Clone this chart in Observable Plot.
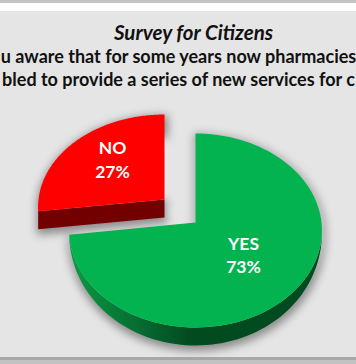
<!DOCTYPE html>
<html><head><meta charset="utf-8">
<script src="https://cdn.jsdelivr.net/npm/d3@7"></script>
<script src="https://cdn.jsdelivr.net/npm/@observablehq/plot@0.6"></script>
<style>
html,body{margin:0;padding:0;background:#fff;overflow:hidden}
svg{display:block}
</style></head><body><div id="c"></div>
<script>
const categories = ["YES","NO"];
const shares = [73,27];
const labels = ["73%","27%"];
const topColors = ["#02b350","#ff0000"];
const sideLight = "#0a9a45";
const sideDark = "#024a20";
const redSide = "#730000";
const title = "Survey for Citizens";
const subtitle = ["u aware that for some years now pharmacies","bled to provide a series of new services for c"];

// view model, in the picture's own pixel units
const W=356,H=364;
const a=126, ks=[96.3,92], p=0.0825, depth=18;
const centers=[[195,222],[164,199]];
function proj(i,u,v,dz=0){const c=centers[i],s=1/(1-p*v);return [c[0]+a*u*s, c[1]+ks[i]*v*s+dz];}
const rimDrop=v=>depth*Math.pow(Math.max(v,0),0.9);
// turn shares into arcs: clockwise from 12 o'clock
const arcs=d3.pie().sort(null).value(d=>d)(shares);
const tops=[],sides=[],shadows=[];
arcs.forEach((arc,i)=>{
  const angs=d3.range(0,121).map(j=>arc.startAngle+(arc.endAngle-arc.startAngle)*j/120);
  const pts=angs.map(t=>[Math.sin(t),-Math.cos(t)]);
  const top=[[0,0],...pts].map(([u,v])=>proj(i,u,v));
  top.forEach(([x,y])=>tops.push({x,y,i}));
  let bot;
  if(i===0){
    bot=[[0,0],...pts].map(([u,v])=>proj(i,u,v,rimDrop(v)));
    const front=pts.filter(([u,v])=>v>-0.01);
    const upper=front.map(([u,v])=>proj(i,u,v));
    const lower=front.map(([u,v])=>proj(i,u,v,rimDrop(v)));
    [...upper,...lower.reverse()].forEach(([x,y])=>sides.push({x,y,z:"g",col:"url(#wall)"}));
  } else {
    bot=[[0,0],...pts].map(([u,v])=>proj(i,u,v,depth));
    const s=pts[0];
    [proj(i,0,0),proj(i,s[0],s[1]),proj(i,s[0],s[1],depth),proj(i,0,0,depth)].forEach(([x,y])=>sides.push({x,y,z:"r1",col:redSide}));
  }
  [...top,...bot.slice().reverse()].forEach(([x,y])=>shadows.push({x:x+1,y:y+3,i}));
});
const blur=(index,scales,values,dims,ctx,next)=>{const g=next(index,scales,values,dims,ctx);g.style.filter="blur(4px)";return g;};
const defs=()=>{
  const d=d3.create("svg:defs");
  const g=d.append("linearGradient").attr("id","wall").attr("gradientUnits","userSpaceOnUse")
    .attr("x1",70).attr("x2",190).attr("y1",0).attr("y2",0);
  g.append("stop").attr("offset",0).attr("stop-color",sideLight);
  g.append("stop").attr("offset",1).attr("stop-color",sideDark);
  return d.node();
};
const sideMark=(z,fill)=>Plot.line(sides.filter(d=>d.z===z),{x:"x",y:"y",fill,stroke:"none"});
const chart=Plot.plot({
  width:W,height:H,margin:0,
  x:{domain:[0,W],range:[0,W],axis:null},
  y:{domain:[0,H],range:[0,H],axis:null},
  style:{background:"transparent",overflow:"hidden"},
  marks:[
    defs,
    Plot.rect([{x1:0,x2:W,y1:11,y2:357}],{x1:"x1",x2:"x2",y1:"y1",y2:"y2",fill:"#e5e5e5"}),
    Plot.rect([{x1:0,x2:W,y1:0,y2:3}],{x1:"x1",x2:"x2",y1:"y1",y2:"y2",fill:"#c4c4c4"}),
    Plot.rect([{x1:0,x2:W,y1:357,y2:360}],{x1:"x1",x2:"x2",y1:"y1",y2:"y2",fill:"#a8a8a8"}),
    Plot.rect([{x1:0,x2:W,y1:360,y2:364}],{x1:"x1",x2:"x2",y1:"y1",y2:"y2",fill:"#c2c2c2"}),
    Plot.line(shadows,{x:"x",y:"y",z:"i",fill:"#8c8c8c",stroke:"#8c8c8c",strokeWidth:5,render:blur}),
    sideMark("g","url(#wall)"),
    sideMark("r1",redSide),
    Plot.line(tops,{x:"x",y:"y",z:"i",fill:d=>topColors[d.i],stroke:"none"}),
    Plot.text([title],{x:()=>193,y:()=>33,text:d=>d,fontFamily:"Lato",fontStyle:"italic",fontWeight:700,fontSize:20.5,fill:"#111"}),
    Plot.text(subtitle,{x:()=>178,y:(d,i)=>[57,80][i],text:d=>d,fontFamily:"Lato",fontWeight:700,fontSize:18,fill:"#111"}),
    Plot.text(categories,{x:(d,i)=>[243,112][i],y:(d,i)=>[244,148][i],text:d=>d,fontFamily:"Lato",fontWeight:700,fontSize:17.5,fill:"#fff"}),
    Plot.text(labels,{x:(d,i)=>[243,112][i],y:(d,i)=>[267,172][i],text:d=>d,fontFamily:"Lato",fontWeight:700,fontSize:17.5,fill:"#fff"})
  ]
});
document.getElementById("c").append(chart);
</script></body></html>
